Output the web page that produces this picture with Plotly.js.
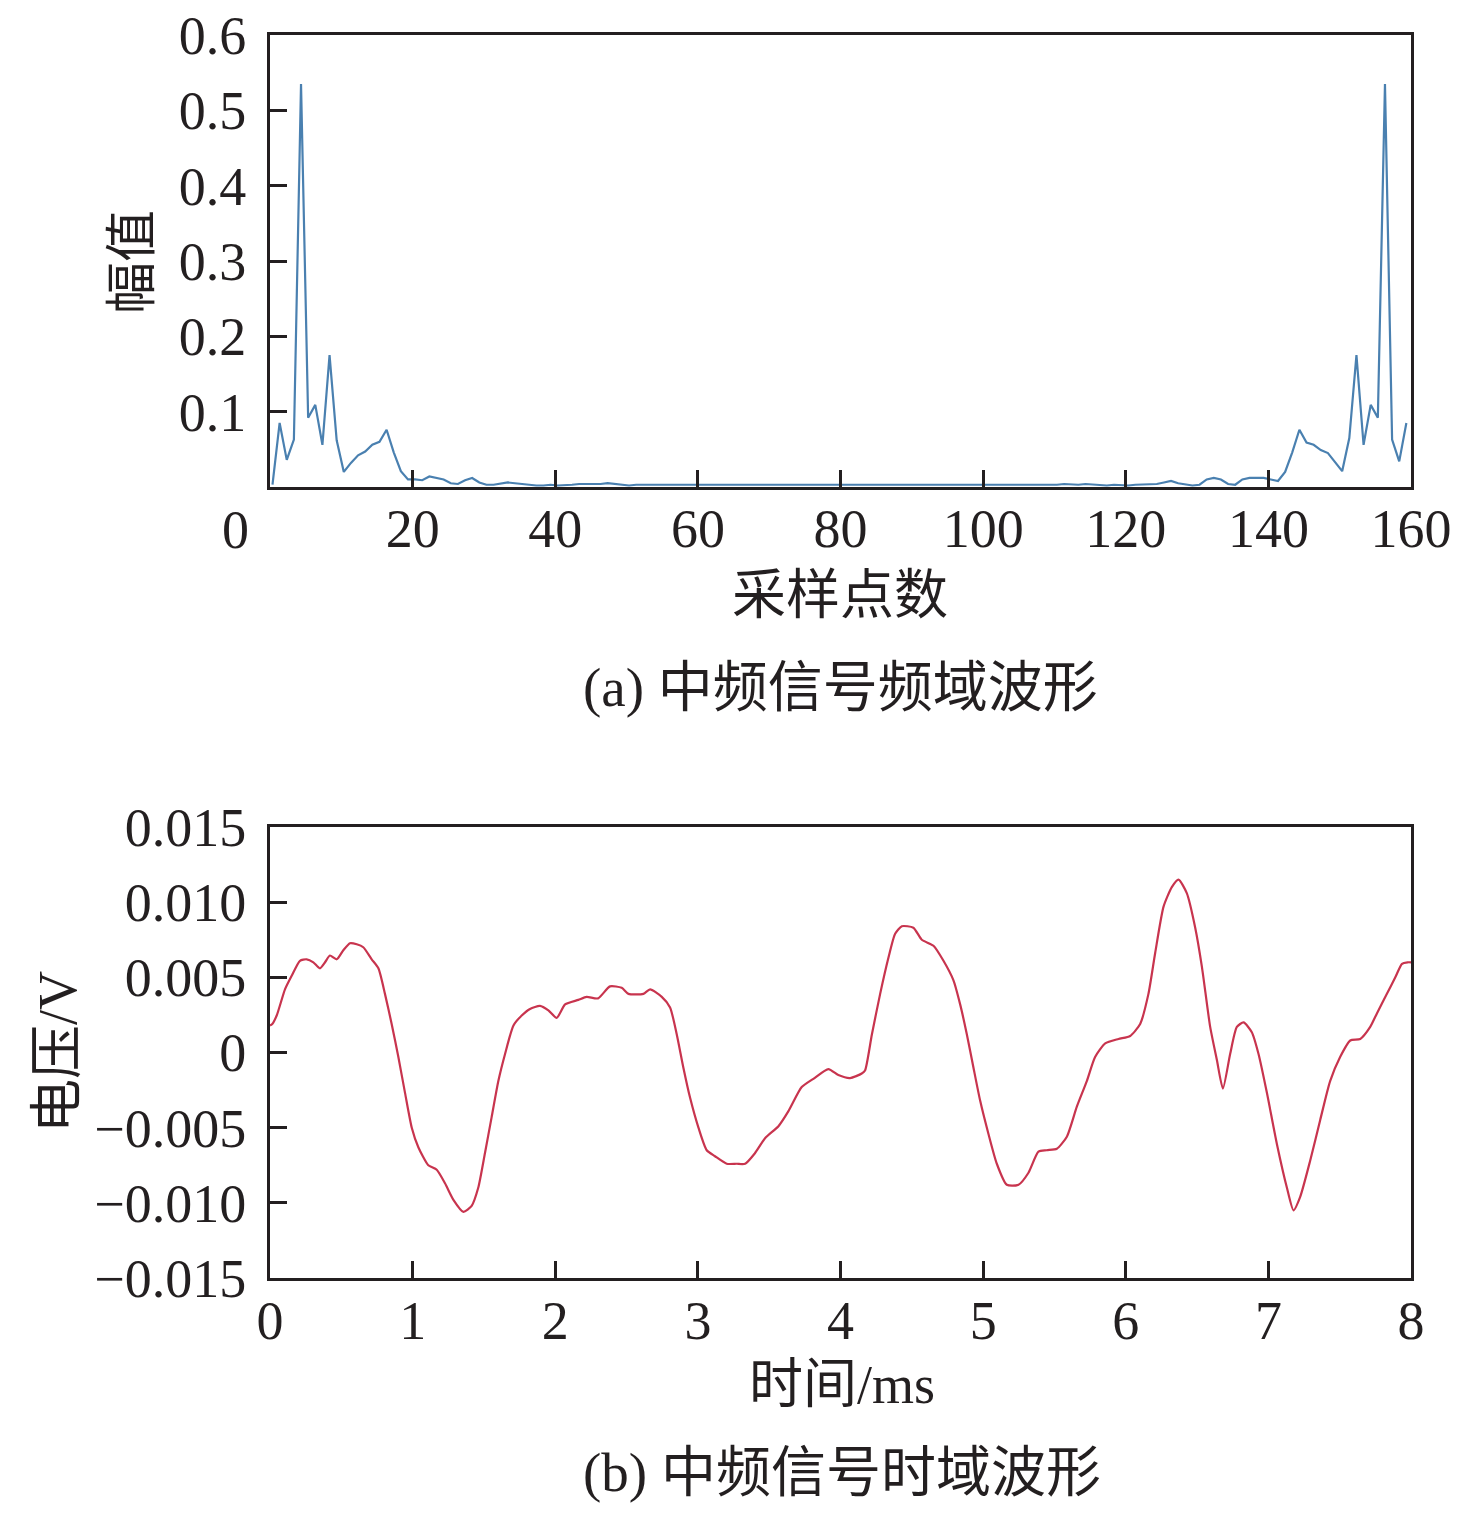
<!DOCTYPE html>
<html>
<head>
<meta charset="utf-8">
<script src="https://cdn.plot.ly/plotly-3.0.1.min.js"></script>
<style>html,body{margin:0;padding:0;background:#fff;}#chart{width:1476px;height:1516px;}</style>
</head>
<body>
<div id="chart"></div>
<script>
// ---- (a) frequency-domain data: FFT magnitude per sample index ----
const freqOffset = 0.35;
const freqMag = [
  0.003, 0.085, 0.036, 0.063, 0.535, 0.092, 0.109, 0.056, 0.175, 0.062,
  0.020, 0.032, 0.042, 0.047, 0.056, 0.060, 0.076, 0.046, 0.021, 0.010,
  0.010, 0.009, 0.014, 0.012, 0.010, 0.005, 0.004, 0.009, 0.012, 0.006,
  0.003, 0.003, 0.005, 0.006, 0.005, 0.004, 0.003, 0.002, 0.002, 0.003,
  0.002, 0.002, 0.003, 0.004, 0.004, 0.003, 0.004, 0.005, 0.004, 0.003,
  0.002, 0.003, 0.003, 0.002, 0.002, 0.003, 0.002, 0.002, 0.003, 0.002,
  0.002, 0.002, 0.003, 0.002, 0.002, 0.003, 0.002, 0.002, 0.002, 0.003,
  0.002, 0.002, 0.003, 0.002, 0.002, 0.002, 0.003, 0.002, 0.002, 0.002,
  0.002, 0.002, 0.002, 0.003, 0.002, 0.002, 0.002, 0.003, 0.002, 0.002,
  0.003, 0.002, 0.002, 0.002, 0.003, 0.002, 0.002, 0.003, 0.002, 0.002,
  0.003, 0.002, 0.002, 0.003, 0.002, 0.002, 0.003, 0.003, 0.003, 0.002,
  0.003, 0.004, 0.003, 0.003, 0.004, 0.003, 0.002, 0.002, 0.003, 0.002,
  0.002, 0.003, 0.003, 0.004, 0.004, 0.006, 0.008, 0.005, 0.003, 0.002,
  0.003, 0.010, 0.012, 0.010, 0.004, 0.003, 0.010, 0.012, 0.012, 0.012,
  0.010, 0.008, 0.020, 0.046, 0.076, 0.059, 0.056, 0.049, 0.045, 0.033,
  0.021, 0.065, 0.175, 0.056, 0.109, 0.092, 0.535, 0.063, 0.034, 0.085
];
const freqX = freqMag.map((_, i) => i + freqOffset);
const freqXTicks = [20, 40, 60, 80, 100, 120, 140, 160];
const freqYTicks = [0.1, 0.2, 0.3, 0.4, 0.5, 0.6];

// ---- (b) time-domain data ----
const timeMs = [
  0.0, 0.016, 0.047, 0.105, 0.152, 0.21, 0.257, 0.304, 0.35, 0.386,
  0.42, 0.468, 0.514, 0.561, 0.608, 0.654, 0.713, 0.76, 0.806, 0.853,
  0.9, 0.947, 0.994, 1.04, 1.11, 1.169, 1.227, 1.286, 1.356, 1.414,
  1.46, 1.507, 1.554, 1.601, 1.648, 1.707, 1.765, 1.823, 1.893, 1.952,
  2.01, 2.069, 2.162, 2.22, 2.30, 2.384, 2.466, 2.513, 2.618, 2.665,
  2.747, 2.805, 2.852, 2.898, 2.945, 3.004, 3.062, 3.12, 3.202, 3.272,
  3.331, 3.40, 3.471, 3.565, 3.635, 3.728, 3.81, 3.915, 3.985, 4.067,
  4.149, 4.172, 4.22, 4.278, 4.336, 4.383, 4.43, 4.511, 4.57, 4.652,
  4.722, 4.792, 4.839, 4.886, 4.932, 4.979, 5.037, 5.096, 5.166, 5.248,
  5.318, 5.388, 5.446, 5.517, 5.587, 5.657, 5.727, 5.785, 5.856, 5.949,
  6.031, 6.101, 6.159, 6.206, 6.265, 6.323, 6.37, 6.428, 6.487, 6.534,
  6.592, 6.639, 6.681, 6.732, 6.779, 6.826, 6.884, 6.931, 6.99, 7.06,
  7.13, 7.176, 7.223, 7.293, 7.363, 7.433, 7.503, 7.574, 7.644, 7.714,
  7.761, 7.831, 7.89, 7.937, 7.976, 8.0
];
const voltV = [
  0.0018, 0.0019, 0.00246, 0.0042, 0.0051, 0.0061, 0.0062, 0.0060, 0.0056, 0.0060,
  0.00645, 0.0062, 0.0068, 0.00727, 0.0072, 0.0070, 0.0062, 0.0056, 0.0039, 0.0019,
  -0.0003, -0.0027, -0.0050, -0.0063, -0.0075, -0.0078, -0.0087, -0.0098, -0.0106, -0.0102,
  -0.0090, -0.0067, -0.0043, -0.0019, -0.0001, 0.0018, 0.00246, 0.0029, 0.0031, 0.0028,
  0.0023, 0.0032, 0.0035, 0.0037, 0.0036, 0.0044, 0.0043, 0.0039, 0.0039, 0.0042,
  0.0037, 0.0030, 0.0012, -0.0010, -0.0030, -0.0050, -0.0065, -0.0069, -0.0074, -0.0074,
  -0.0074, -0.0067, -0.0057, -0.0049, -0.0039, -0.0023, -0.00175, -0.0011, -0.0015, -0.0017,
  -0.0014, -0.0012, 0.0012, 0.0039, 0.0063, 0.0079, 0.0084, 0.0083, 0.0075, 0.0071,
  0.0061, 0.0048, 0.0032, 0.0012, -0.0010, -0.0032, -0.0054, -0.0074, -0.0088, -0.0088,
  -0.0080, -0.0066, -0.0065, -0.0064, -0.0056, -0.0036, -0.0019, -0.0003, 0.0006, 0.0009,
  0.0011, 0.0019, 0.0039, 0.0066, 0.0097, 0.0110, 0.0115, 0.0106, 0.0083, 0.0057,
  0.0017, -0.0005, -0.0024, -0.0001, 0.0017, 0.0020, 0.00135, -0.0001, -0.0027, -0.0061,
  -0.0090, -0.0105, -0.0096, -0.0072, -0.0045, -0.0019, -0.0003, 0.0008, 0.0009, 0.0017,
  0.0026, 0.0039, 0.0050, 0.0059, 0.0060, 0.0060
];
const timeXTicks = [0, 1, 2, 3, 4, 5, 6, 7, 8];
const voltYTicks = [0.015, 0.010, 0.005, 0, -0.005, -0.010, -0.015];
const voltYLabels = ['0.015', '0.010', '0.005', '0', '\u22120.005', '\u22120.010', '\u22120.015'];

const serif = 'Liberation Serif, Times New Roman, serif';
const mixed = 'Liberation Serif, Noto Sans CJK SC, serif';
const ink = '#231f20';
const tickFont = {family: serif, size: 54, color: ink};

const W = 1476, H = 1516;
const px = v => v / W, py = v => 1 - v / H;

const axisCommon = {
  showline: true, linecolor: ink, linewidth: 3, mirror: true,
  ticks: 'inside', ticklen: 17, tickwidth: 3, tickcolor: ink,
  showgrid: false, zeroline: false, tickfont: tickFont, fixedrange: true
};

const traces = [
  {x: freqX, y: freqMag, type: 'scatter', mode: 'lines', xaxis: 'x', yaxis: 'y',
   line: {color: 'rgb(74,128,176)', width: 2.2}, hoverinfo: 'skip'},
  {x: timeMs, y: voltV, type: 'scatter', mode: 'lines', xaxis: 'x2', yaxis: 'y2',
   line: {color: 'rgb(200,52,78)', width: 2.2, shape: 'spline', smoothing: 0.6}, hoverinfo: 'skip'}
];

const layout = {
  width: W, height: H,
  margin: {l: 0, r: 0, t: 0, b: 0},
  paper_bgcolor: '#fff', plot_bgcolor: '#fff',
  showlegend: false,
  xaxis: Object.assign({}, axisCommon, {
    domain: [px(270), px(1411)], anchor: 'y', range: [0, 160],
    tickmode: 'array', tickvals: freqXTicks, ticklabelstandoff: -8
  }),
  yaxis: Object.assign({}, axisCommon, {
    domain: [py(487), py(35)], anchor: 'x', range: [0, 0.6],
    tickmode: 'array', tickvals: freqYTicks, ticktext: freqYTicks.map(v => v.toFixed(1)),
    ticklabelstandoff: 10
  }),
  xaxis2: Object.assign({}, axisCommon, {
    domain: [px(270), px(1411)], anchor: 'y2', range: [0, 8],
    tickmode: 'array', tickvals: timeXTicks, ticklabelstandoff: -7
  }),
  yaxis2: Object.assign({}, axisCommon, {
    domain: [py(1278), py(827)], anchor: 'x2', range: [-0.015, 0.015],
    tickmode: 'array', tickvals: voltYTicks, ticktext: voltYLabels,
    ticklabelstandoff: 10
  }),
  annotations: [
    {text: '0', xref: 'paper', yref: 'paper', x: px(235), y: py(530), showarrow: false,
     font: tickFont, xanchor: 'center', yanchor: 'middle'},
    {text: '幅值', xref: 'paper', yref: 'paper', x: px(132), y: py(262), showarrow: false,
     textangle: -90, font: {family: mixed, size: 52, color: ink}, xanchor: 'center', yanchor: 'middle'},
    {text: '采样点数', xref: 'paper', yref: 'paper', x: px(840), y: py(596), showarrow: false,
     font: {family: mixed, size: 54, color: ink}, xanchor: 'center', yanchor: 'middle'},
    {text: '(a) 中频信号频域波形', xref: 'paper', yref: 'paper', x: px(840), y: py(688), showarrow: false,
     font: {family: mixed, size: 55, color: ink}, xanchor: 'center', yanchor: 'middle'},
    {text: '电压/V', xref: 'paper', yref: 'paper', x: px(58), y: py(1052), showarrow: false,
     textangle: -90, font: {family: mixed, size: 54, color: ink}, xanchor: 'center', yanchor: 'middle'},
    {text: '时间/ms', xref: 'paper', yref: 'paper', x: px(842), y: py(1385), showarrow: false,
     font: {family: mixed, size: 54, color: ink}, xanchor: 'center', yanchor: 'middle'},
    {text: '(b) 中频信号时域波形', xref: 'paper', yref: 'paper', x: px(842), y: py(1472), showarrow: false,
     font: {family: mixed, size: 55, color: ink}, xanchor: 'center', yanchor: 'middle'}
  ]
};

Plotly.newPlot('chart', traces, layout, {staticPlot: true, displayModeBar: false});
</script>
</body>
</html>
